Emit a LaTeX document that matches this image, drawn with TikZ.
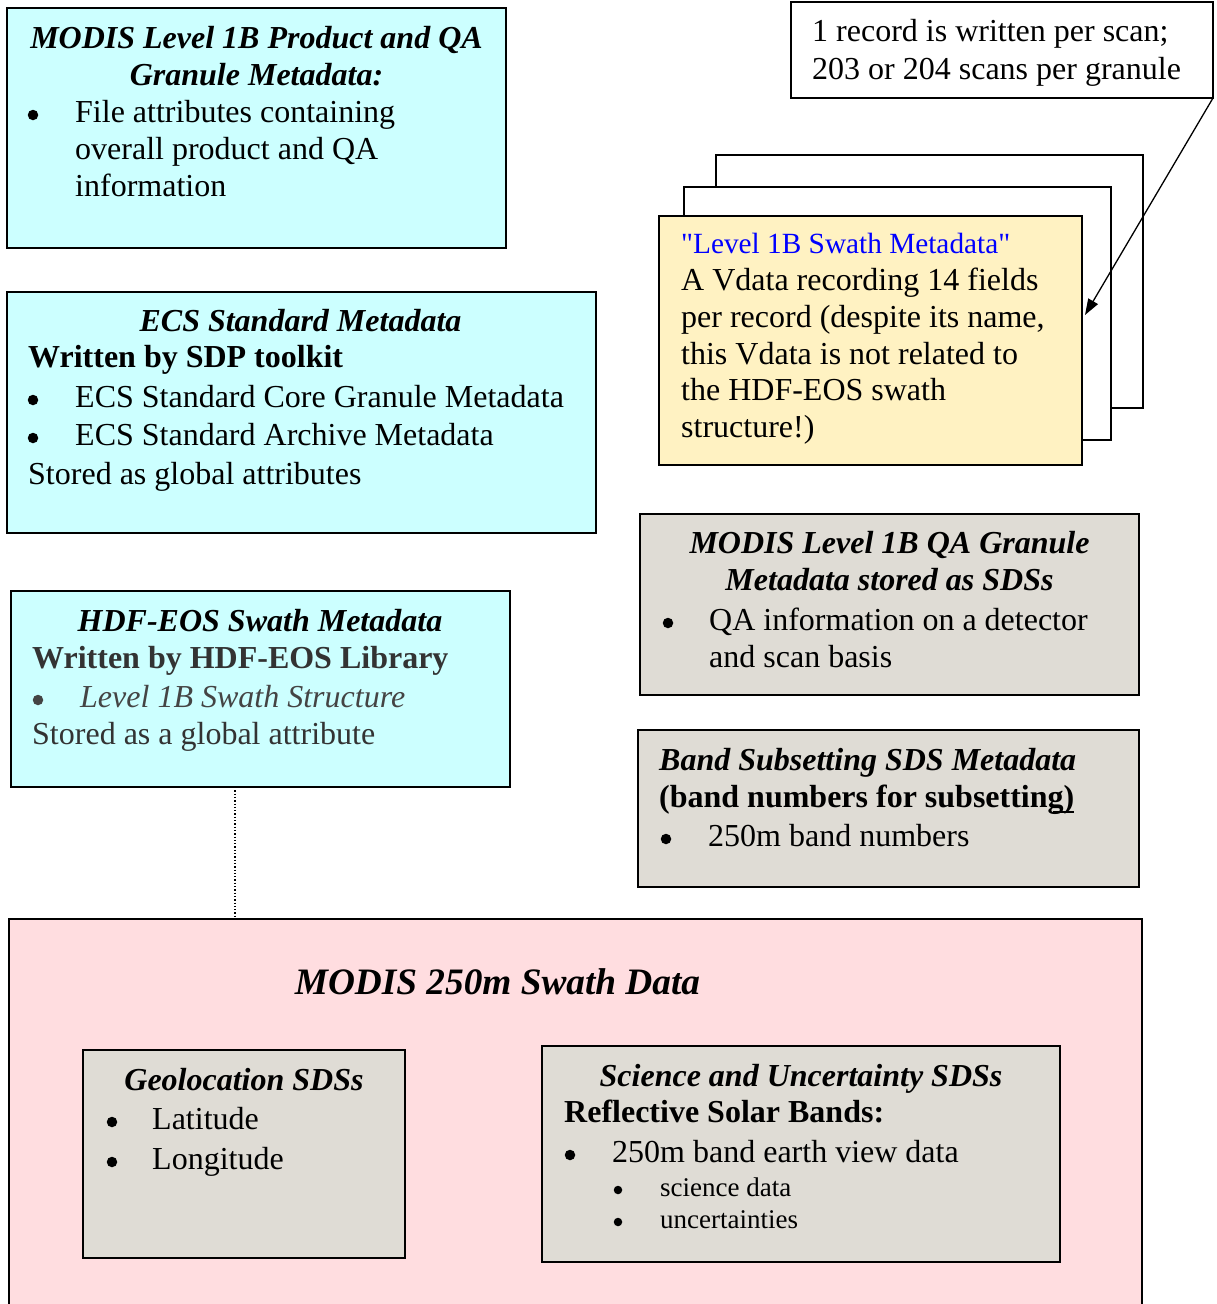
\documentclass[tikz,border=0pt]{standalone}
\usepackage{fontspec}
\setmainfont{Liberation Serif}
\usetikzlibrary{arrows.meta}
\definecolor{cyanfill}{HTML}{CCFFFF}
\definecolor{yellowfill}{HTML}{FFF2C2}
\definecolor{grayfill}{HTML}{DFDCD5}
\definecolor{pinkfill}{HTML}{FFDDE0}
\definecolor{darktext}{HTML}{333333}
\definecolor{midtext}{HTML}{444444}
\definecolor{bluetext}{HTML}{0000FF}
\newcommand{\sq}{\XeTeXglyph\XeTeXcharglyph"22\relax}
\begin{document}
\begin{tikzpicture}[x=1pt,y=-1pt,
  box/.style={draw=black, line width=2pt, anchor=north west, inner sep=0pt, outer sep=0pt},
  txt/.style={anchor=base west, inner sep=0pt, font=\fontsize{32}{37}\selectfont},
  ctxt/.style={anchor=base, inner sep=0pt, font=\fontsize{32}{37}\selectfont},
  small/.style={anchor=base west, inner sep=0pt, font=\fontsize{27}{32}\selectfont},
  hd/.style={font=\fontsize{32}{37}\selectfont\bfseries\itshape},
  bd/.style={font=\fontsize{32}{37}\selectfont\bfseries},
  bul/.style={circle, fill=black, draw=none, minimum size=10.5pt, inner sep=0pt},
  sbul/.style={circle, fill=black, draw=none, minimum size=8.5pt, inner sep=0pt},
  link/.style={line width=1.3pt, -{Triangle[length=16pt,width=11pt]}}]
\useasboundingbox (0,0) rectangle (1216,1304);
\clip (0,0) rectangle (1216,1304);

% ---- Box 1: product and QA granule metadata
\node[box, fill=cyanfill, minimum width=499pt, minimum height=240pt] (prod) at (7,8) {};
\node[ctxt, hd] (prodt1) at (256.5,48) {MODIS Level 1B Product and QA};
\node[ctxt, hd] (prodt2) at (256.5,85) {Granule Metadata:};
\node[bul] (prodb1) at (33,115) {};
\node[txt] (prodl1) at (75,122) {File attributes containing};
\node[txt] (prodl2) at (75,159) {overall product and QA};
\node[txt] (prodl3) at (75,196) {information};

% ---- note box
\node[box, line width=1.5pt, fill=white, minimum width=422pt, minimum height=96pt] (rec) at (791,2) {};
\node[txt] (recl1) at (812,41) {1 record is written per scan;};
\node[txt] (recl2) at (812,79) {203 or 204 scans per granule};

% ---- stacked Vdata records
\node[box, line width=2.5pt, fill=white, minimum width=427pt, minimum height=253pt] (page3) at (716,155) {};
\node[box, line width=2.5pt, fill=white, minimum width=427pt, minimum height=253pt] (page2) at (684,187) {};
\node[box, line width=2.5pt, fill=yellowfill, minimum width=423pt, minimum height=249pt] (page1) at (659,216) {};
\node[anchor=base west, inner sep=0pt, font=\fontsize{29.3}{34}\selectfont, text=bluetext] (vd0) at (681,253) {\sq Level 1B Swath Metadata\sq};
\node[txt] (vd1) at (681,290) {A Vdata recording 14 fields};
\node[txt] (vd2) at (681,327) {per record (despite its name,};
\node[txt] (vd3) at (681,364) {this Vdata is not related to};
\node[txt] (vd4) at (681,400) {the HDF-EOS swath};
\node[txt] (vd5) at (681,437) {structure!)};
\coordinate (atip) at (1085,315);
\draw[link] (rec.south east) -- (atip);

% ---- ECS standard metadata
\node[box, fill=cyanfill, minimum width=589pt, minimum height=241pt] (ecs) at (7,292) {};
\node[ctxt, hd] (ecst) at (300.5,331) {ECS Standard Metadata};
\node[txt, bd] (ecsw) at (28,367) {Written by SDP toolkit};
\node[bul] (ecsb1) at (33,400) {};
\node[txt] (ecsl1) at (75,407) {ECS Standard Core Granule Metadata};
\node[bul] (ecsb2) at (33,438) {};
\node[txt] (ecsl2) at (75,445) {ECS Standard Archive Metadata};
\node[txt] (ecss) at (28,484) {Stored as global attributes};

% ---- HDF-EOS swath metadata
\node[box, fill=cyanfill, minimum width=499pt, minimum height=196pt] (hdf) at (11,591) {};
\node[ctxt, hd] (hdft) at (260,631) {HDF-EOS Swath Metadata};
\node[txt, bd, text=darktext] (hdfw) at (32,668) {Written by HDF-EOS Library};
\node[bul, fill=midtext] (hdfb) at (38,700) {};
\node[txt, text=midtext, font=\fontsize{32}{37}\selectfont\itshape] (hdfl) at (80,707) {Level 1B Swath Structure};
\node[txt, text=darktext] (hdfs) at (32,744) {Stored as a global attribute};

% ---- QA granule SDS
\node[box, fill=grayfill, minimum width=499pt, minimum height=181pt] (qa) at (640,514) {};
\node[ctxt, hd] (qat1) at (889.5,553) {MODIS Level 1B QA Granule};
\node[ctxt, hd] (qat2) at (889.5,590) {Metadata stored as SDSs};
\node[bul] (qab) at (668,623) {};
\node[txt] (qal1) at (709,630) {QA information on a detector};
\node[txt] (qal2) at (709,667) {and scan basis};

% ---- band subsetting
\node[box, fill=grayfill, minimum width=501pt, minimum height=157pt] (band) at (638,730) {};
\node[txt, hd] (bandt) at (659,770) {Band Subsetting SDS Metadata};
\node[txt, bd] (bandw) at (659,807) {(band numbers for subsetting)};
\coordinate (ul1) at (1053,812);
\coordinate (ul2) at (1074,812);
\draw[line width=1.5pt] (ul1) -- (ul2);
\node[bul] (bandb) at (666,839) {};
\node[txt] (bandl) at (708,846) {250m band numbers};

% ---- 250m swath data
\node[box, fill=pinkfill, minimum width=1133pt, minimum height=420pt] (swath) at (9,919) {};
\node[anchor=base, inner sep=0pt, font=\fontsize{37.3}{43}\selectfont\bfseries\itshape] (swatht) at (497.5,994) {MODIS 250m Swath Data};
\coordinate (dtop) at (235,787);
\draw[line width=1.3pt, dotted] (dtop) -- (dtop |- swath.north);

\node[box, fill=grayfill, minimum width=322pt, minimum height=208pt] (geo) at (83,1050) {};
\node[ctxt, hd] (geot) at (244,1090) {Geolocation SDSs};
\node[bul] (geob1) at (112,1122) {};
\node[txt] (geol1) at (152,1129) {Latitude};
\node[bul] (geob2) at (112,1162) {};
\node[txt] (geol2) at (152,1169) {Longitude};

\node[box, fill=grayfill, minimum width=518pt, minimum height=216pt] (sci) at (542,1046) {};
\node[ctxt, hd] (scit) at (801,1086) {Science and Uncertainty SDSs};
\node[txt, bd] (sciw) at (564,1122) {Reflective Solar Bands:};
\node[bul] (scib) at (570,1155) {};
\node[txt] (scil) at (612,1162) {250m band earth view data};
\node[sbul] (scisb1) at (618,1190) {};
\node[small] (scis1) at (660,1196) {science data};
\node[sbul] (scisb2) at (618,1222) {};
\node[small] (scis2) at (660,1228) {uncertainties};
\end{tikzpicture}
\end{document}
